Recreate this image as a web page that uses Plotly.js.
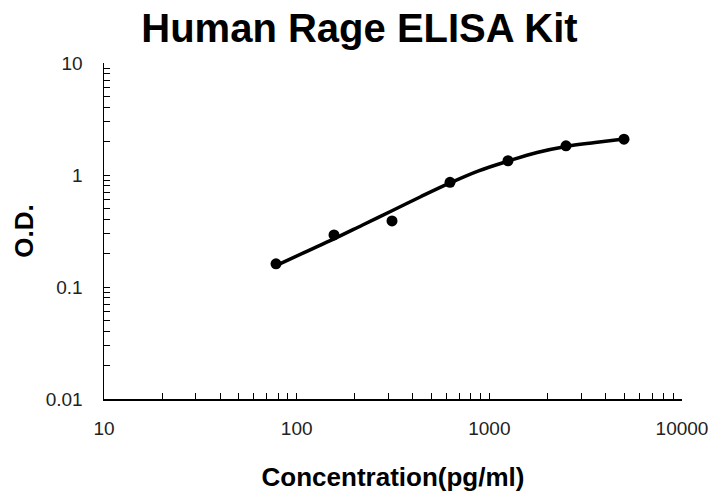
<!DOCTYPE html>
<html>
<head>
<meta charset="utf-8">
<script src="https://cdn.plot.ly/plotly-3.0.1.min.js"></script>
<style>html,body{margin:0;padding:0;background:#fff;}#chart{width:709px;height:492px;}</style>
</head>
<body>
<div id="chart"></div>
<script>
// Standard points
const concentration = [78.125, 156.25, 312.5, 625, 1250, 2500, 5000];
const od = [0.161, 0.292, 0.389, 0.86, 1.34, 1.82, 2.09];

// Fitted curve
const curveX = [78.125, 110, 156.25, 220, 312.5, 440, 625, 880, 1250, 1770, 2500, 3540, 5000];
const curveY = [0.155, 0.204, 0.269, 0.358, 0.48, 0.64, 0.85, 1.09, 1.33, 1.59, 1.8, 1.95, 2.1];

const xTickVals = [];
const xTickText = [];
[10, 100, 1000].forEach(d => { for (let k = 1; k <= 9; k++) { xTickVals.push(d * k); xTickText.push(k === 1 ? String(d) : ''); } });
xTickVals.push(10000); xTickText.push('10000');

const yTickVals = [];
const yTickText = [];
[0.01, 0.1, 1].forEach(d => { for (let k = 1; k <= 9; k++) { yTickVals.push(d * k); yTickText.push(k === 1 ? String(d) : ''); } });
yTickVals.push(10); yTickText.push('10');

const traces = [
  {x: curveX, y: curveY, type: 'scatter', mode: 'lines', line: {color: '#000', width: 3.5, shape: 'spline', smoothing: 1}, hoverinfo: 'skip'},
  {x: concentration, y: od, type: 'scatter', mode: 'markers', marker: {color: '#000', size: 11}}
];

const FONT = 'Liberation Sans, Arial, sans-serif';

const layout = {
  width: 709, height: 492,
  margin: {l: 104, r: 27, t: 63, b: 93},
  paper_bgcolor: '#fff', plot_bgcolor: '#fff',
  showlegend: false,
  title: {text: '<b>Human Rage ELISA Kit</b>', x: 0.507, xanchor: 'center', y: 0.972, yanchor: 'top',
          font: {family: FONT, size: 40, color: '#000'}},
  xaxis: {
    type: 'log', range: [1, 4], showgrid: false, zeroline: false,
    showline: true, linecolor: '#000', linewidth: 1.5,
    ticks: 'inside', ticklen: 6, tickcolor: '#000', tickwidth: 1,
    tickmode: 'array', tickvals: xTickVals, ticktext: xTickText,
    ticklabelstandoff: 12,
    tickfont: {family: FONT, size: 19, color: '#222'},
    title: {text: '<b>Concentration(pg/ml)</b>', standoff: 29,
            font: {family: FONT, size: 26, color: '#000'}}
  },
  yaxis: {
    type: 'log', range: [-2, 1], showgrid: false, zeroline: false,
    showline: true, linecolor: '#000', linewidth: 1.5,
    ticks: 'inside', ticklen: 6, tickcolor: '#000', tickwidth: 1,
    tickmode: 'array', tickvals: yTickVals, ticktext: yTickText,
    ticklabelstandoff: 16,
    tickfont: {family: FONT, size: 19, color: '#222'},
    title: {text: '<b>O.D.</b>', standoff: 4,
            font: {family: FONT, size: 26, color: '#000'}}
  }
};

Plotly.newPlot('chart', traces, layout, {displayModeBar: false, staticPlot: true});
</script>
</body>
</html>
